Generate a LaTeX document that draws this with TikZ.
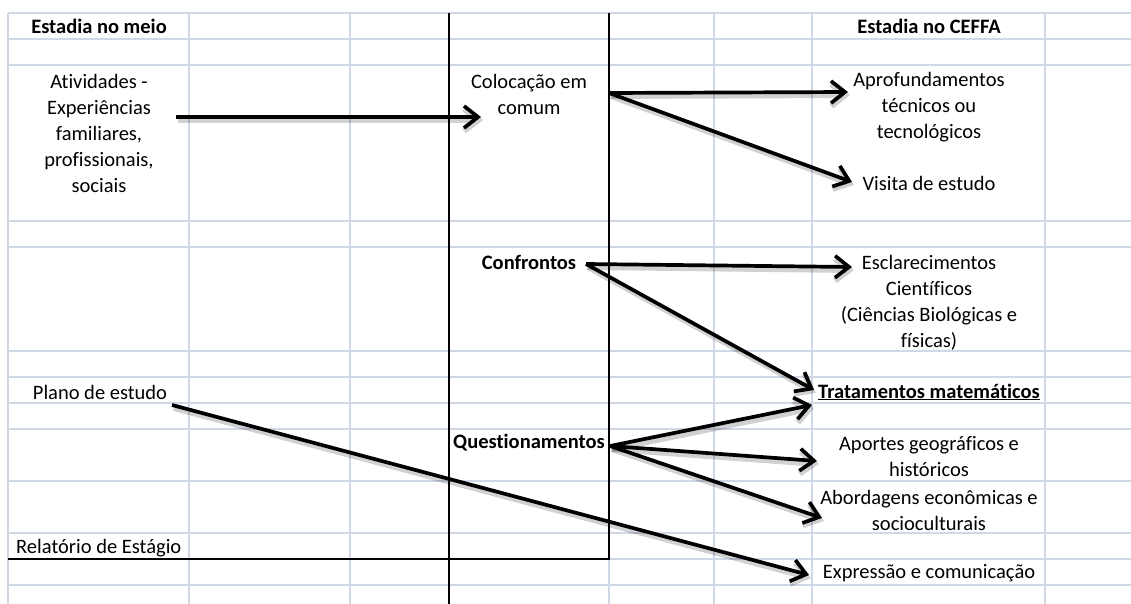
\documentclass[tikz,border=0pt]{standalone}
\usepackage{fontspec}
\setmainfont[Ligatures={NoCommon}]{Carlito}
\usetikzlibrary{arrows.meta}
\definecolor{gridc}{RGB}{208,215,229}
\begin{document}
\begin{tikzpicture}[x=1pt,y=-1pt,
  txt/.style={font=\fontsize{20.5pt}{26pt}\selectfont, inner sep=0pt, align=center, text=black},
  boldtxt/.style={txt, font=\fontsize{20.5pt}{26pt}\selectfont\bfseries},
  gridline/.style={draw=gridc, line width=1.2pt},
  rulerline/.style={draw=black, line width=1.3pt},
  arr/.style={draw=black, line width=3.7pt, -{Straight Barb[length=14pt,width=22pt]},
    preaction={draw=black, opacity=0.18, line width=6pt, transform canvas={shift={(2,3)}}}}
]
\fill[white] (0,0) rectangle (1131,604);
\useasboundingbox (0,0) rectangle (1131,604);
% grid
\foreach \x in {8,189,350,449,609,714,812,1045} \draw[gridline] (\x,13) -- (\x,604);
\foreach \y in {13,39,65,221,247,351,377,403,429,481,533,559,585} \draw[gridline] (8,\y) -- (1131,\y);
% black rules
\draw[rulerline] (449,13) -- (449,604);
\draw[rulerline] (609,13) -- (609,559) -- (8,559);

% texts
\node[boldtxt] (hmeio) at (99,26) {Estadia no meio};
\node[boldtxt] (hceffa) at (929,26) {Estadia no CEFFA};
\node[txt] (ativ) at (99,133) {Atividades -\\Experiências\\familiares,\\profissionais,\\sociais};
\node[txt] (col) at (529,94.5) {Colocação em\\comum};
\node[txt] (aprof) at (929,107.5) {Aprofundamentos\\técnicos ou\\tecnológicos};
\node[txt] (visita) at (929,183) {Visita de estudo};
\node[boldtxt] (confr) at (529,262) {Confrontos};
\node[txt] (escl) at (929,303) {Esclarecimentos\\Científicos\\(Ciências Biológicas e\\físicas)};
\node[boldtxt] (trat) at (929,392) {\underline{Tratamentos matemáticos}};
\node[txt] (plano) at (100,392) {Plano de estudo};
\node[boldtxt] (quest) at (529,443) {Questionamentos};
\node[txt] (aportes) at (929,457) {Aportes geográficos e\\históricos};
\node[txt] (abord) at (929,510) {Abordagens econômicas e\\socioculturais};
\node[txt] (expr) at (929,573) {Expressão e comunicação};
\node[txt, anchor=west] (relat) at (16,548) {Relatório de Estágio};

% arrows
\draw[arr] ([shift={(77,-16)}]ativ.center) -- ([shift={(-48,22.5)}]col.center);
\draw[arr] ([shift={(80,-1.5)}]col.center) -- ([shift={(-81,-15.5)}]aprof.center);
\draw[arr] ([shift={(80,-1.5)}]col.center) -- ([shift={(-77,-1)}]visita.center);
\draw[arr] ([shift={(57,2)}]confr.center) -- ([shift={(-77,-36)}]escl.center);
\draw[arr] ([shift={(57,2)}]confr.center) -- ([shift={(-115,-2)}]trat.center);
\draw[arr] ([shift={(81,3)}]quest.center) -- ([shift={(-117,13)}]trat.center);
\draw[arr] ([shift={(81,3)}]quest.center) -- ([shift={(-112,4)}]aportes.center);
\draw[arr] ([shift={(81,3)}]quest.center) -- ([shift={(-107,8)}]abord.center);
\draw[arr] ([shift={(72,13)}]plano.center) -- ([shift={(-120,2)}]expr.center);
\end{tikzpicture}
\end{document}
